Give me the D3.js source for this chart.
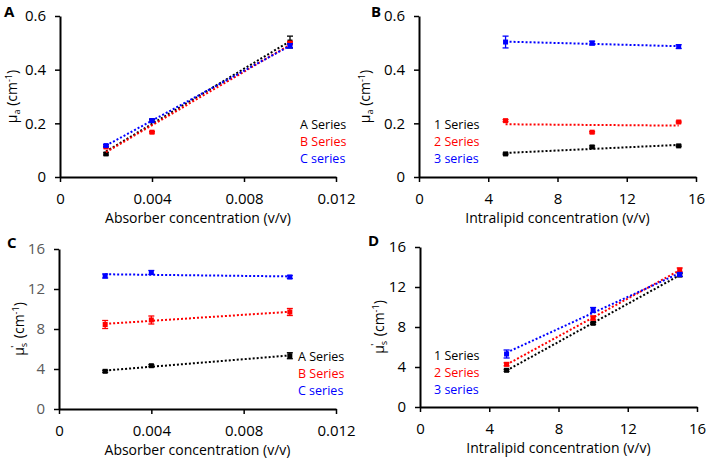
<!DOCTYPE html>
<html><head><meta charset="utf-8">
<script src="https://cdn.jsdelivr.net/npm/d3@7"></script>
<style>body{margin:0;background:#fff}svg{display:block}text{font-family:"Open Sans",sans-serif}</style>
</head><body><svg id="c" width="709" height="459"></svg>
<script>
// ---- data ----
const absorberX = [0.002, 0.004, 0.010];
const intralipidX = [5, 10, 15];
const seriesColors = ["#000000", "#ff0000", "#0000ff"];
const legendAC = ["A Series", "B Series", "C series"];
const legendBD = ["1 Series", "2 Series", "3 series"];

const muaA = [[0.086, 0.210, 0.503], [0.112, 0.167, 0.499], [0.117, 0.210, 0.489]];
const muaAerr = [[0.004, 0.004, 0.022], [0.003, 0.003, 0.005], [0.004, 0.006, 0.008]];
const muaB = [[0.086, 0.112, 0.116], [0.210, 0.167, 0.205], [0.503, 0.499, 0.486]];
const muaBerr = [[0.003, 0.004, 0.003], [0.004, 0.003, 0.003], [0.022, 0.007, 0.007]];
const musC = [[3.77, 4.33, 5.33], [8.45, 8.9, 9.7], [13.3, 13.65, 13.2]];
const musCerr = [[0.1, 0.1, 0.3], [0.4, 0.4, 0.35], [0.2, 0.2, 0.15]];
const musD = [[3.67, 8.37, 13.2], [4.27, 8.9, 13.7], [5.3, 9.7, 13.25]];
const musDerr = [[0.1, 0.1, 0.15], [0.15, 0.2, 0.2], [0.4, 0.25, 0.2]];

const absTicks = [0, 0.004, 0.008, 0.012];
const absTickLabels = ["0", "0.004", "0.008", "0.012"];
const ilTicks = [0, 4, 8, 12, 16];
const muaTicks = [0, 0.2, 0.4, 0.6];
const muaTickLabels = ["0", "0.2", "0.4", "0.6"];
const musTicks = [0, 4, 8, 12, 16];

const svg = d3.select("#c");

function linfit(xs, ys) {
  const n = xs.length, mx = d3.mean(xs), my = d3.mean(ys);
  let sxy = 0, sxx = 0;
  for (let i = 0; i < n; i++) { sxy += (xs[i]-mx)*(ys[i]-my); sxx += (xs[i]-mx)**2; }
  const b = sxy/sxx; return x => my + b*(x-mx);
}

function panel(o) {
  const g = svg.append("g");
  const x = d3.scaleLinear().domain(o.xdom).range(o.xr);
  const y = d3.scaleLinear().domain(o.ydom).range(o.yr);
  const xa = g.append("g").attr("transform", `translate(0,${o.yr[0]})`)
    .call(d3.axisBottom(x).tickValues(o.xticks).tickFormat((d,i)=>o.xlabels[i]).tickSize(5).tickSizeOuter(0));
  const ya = g.append("g").attr("transform", `translate(${o.xr[0]},0)`)
    .call(d3.axisLeft(y).tickValues(o.yticks).tickFormat((d,i)=>o.ylabels[i]).tickSize(5).tickSizeOuter(0));
  [xa, ya].forEach(a => {
    a.select(".domain").attr("stroke", "#000").attr("stroke-width", 2);
    a.selectAll(".tick line").attr("stroke", "#000").attr("stroke-width", 1.5);
    a.selectAll(".tick text").attr("font-size", 15).attr("font-family", '"Open Sans",sans-serif');
  });
  xa.selectAll(".tick text").attr("dy", "0.71em").attr("y", 16).attr("fill", "#000");
  ya.selectAll(".tick text").attr("x", -14).attr("fill", o.ytickColor || "#000");
  g.append("text").attr("x", (o.xr[0]+o.xr[1])/2).attr("y", o.yr[0]+46)
    .attr("text-anchor", "middle").attr("font-size", 14).text(o.xtitle);
  const yt = g.append("text").attr("transform", `translate(${o.ytx},${(o.yr[0]+o.yr[1])/2}) rotate(-90)`)
    .attr("text-anchor", "middle").attr("font-size", 14);
  yt.append("tspan").text("μ");
  yt.append("tspan").attr("font-size", 9).attr("dy", 3).text(o.sub);
  if (o.sup) yt.append("tspan").attr("font-size", 9).attr("dy", -9).attr("dx", -5).text(o.sup);
  yt.append("tspan").attr("dy", o.sup ? 6 : -3).attr("dx", o.sup ? 4 : 0).text(" (cm");
  yt.append("tspan").attr("font-size", 9).attr("dy", -5).text("-1");
  yt.append("tspan").attr("dy", 5).text(")");
  g.append("text").attr("x", o.letterX).attr("y", o.letterY).attr("font-weight", "bold")
    .attr("font-size", 15).attr("font-family", '"Liberation Sans",Arial,sans-serif').text(o.letter);
  o.vals.forEach((ys, s) => {
    const col = seriesColors[s];
    const f = linfit(o.xs, ys);
    const x0 = d3.min(o.xs), x1 = d3.max(o.xs);
    g.append("line").attr("x1", x(x0)).attr("y1", y(f(x0))).attr("x2", x(x1)).attr("y2", y(f(x1)))
      .attr("stroke", col).attr("stroke-width", 2).attr("stroke-dasharray", "2,2");
    ys.forEach((v, i) => {
      const e = o.errs[s][i], cx = x(o.xs[i]);
      g.append("line").attr("x1", cx).attr("x2", cx).attr("y1", y(v-e)).attr("y2", y(v+e)).attr("stroke", col).attr("stroke-width", 1.3);
      [v-e, v+e].forEach(vv => g.append("line").attr("x1", cx-3).attr("x2", cx+3).attr("y1", y(vv)).attr("y2", y(vv)).attr("stroke", col).attr("stroke-width", 1.3));
      g.append("rect").attr("x", cx-2.5).attr("y", y(v)-2.5).attr("width", 5).attr("height", 5).attr("fill", col);
    });
  });
  o.legend.forEach((t, i) => {
    g.append("text").attr("x", o.legX).attr("y", o.legY + i*17).attr("dy", "0.35em")
      .attr("font-size", 12.5).attr("fill", seriesColors[i]).text(t);
  });
}

panel({xdom:[0,0.012], xr:[60,336], ydom:[0,0.6], yr:[177,16], xs:absorberX, vals:muaA, errs:muaAerr,
  xticks:absTicks, xlabels:absTickLabels, yticks:muaTicks, ylabels:muaTickLabels,
  xtitle:"Absorber concentration (v/v)", ytx:17, sub:"a", letter:"A", letterX:4, letterY:17,
  legend:legendAC, legX:300, legY:125});
panel({xdom:[0,16], xr:[419,696], ydom:[0,0.6], yr:[177,16], xs:intralipidX, vals:muaB, errs:muaBerr,
  xticks:ilTicks, xlabels:ilTicks.map(String), yticks:muaTicks, ylabels:muaTickLabels,
  xtitle:"Intralipid concentration (v/v)", ytx:370, sub:"a", letter:"B", letterX:371, letterY:17,
  legend:legendBD, legX:434, legY:125});
panel({xdom:[0,0.012], xr:[59,336], ydom:[0,16], yr:[409,249], xs:absorberX, vals:musC, errs:musCerr,
  xticks:absTicks, xlabels:absTickLabels, yticks:musTicks, ylabels:musTicks.map(String), ytickColor:"#595959",
  xtitle:"Absorber concentration (v/v)", ytx:24, sub:"s", sup:"'", letter:"C", letterX:7, letterY:248,
  legend:legendAC, legX:298, legY:357});
panel({xdom:[0,16], xr:[420,697], ydom:[0,16], yr:[407,247], xs:intralipidX, vals:musD, errs:musDerr,
  xticks:ilTicks, xlabels:ilTicks.map(String), yticks:musTicks, ylabels:musTicks.map(String),
  xtitle:"Intralipid concentration (v/v)", ytx:384, sub:"s", sup:"'", letter:"D", letterX:368, letterY:246,
  legend:legendBD, legX:434, legY:356});
</script></body></html>
